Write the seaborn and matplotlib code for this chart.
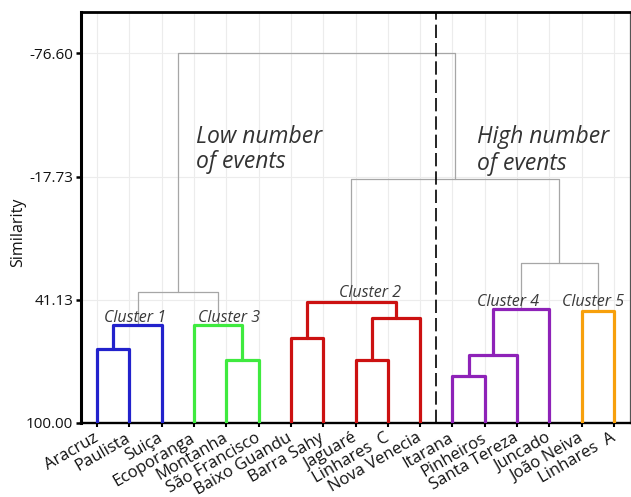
import numpy as np
import pandas as pd
import matplotlib
matplotlib.use("Agg")
import matplotlib.pyplot as plt
import seaborn as sns

# Leaves of the dendrogram, left to right
leaves = ["Aracruz", "Paulista", "Suiça", "Ecoporanga", "Montanha", "São Francisco",
          "Baixo Guandu", "Barra Sahy", "Jaguaré", "Linhares  C", "Nova Venecia",
          "Itarana", "Pinheiros", "Santa Tereza", "Juncado", "João Neiva", "Linhares  A"]
leaf_cluster = [1, 1, 1, 3, 3, 3, 2, 2, 2, 2, 2, 4, 4, 4, 4, 5, 5]

# Agglomeration steps: node ids < 17 are leaves, merge k creates node 17 + k
merge_left = [11, 8, 4, 17, 0, 6, 21, 3, 18, 15, 20, 22, 23, 27, 28, 29]
merge_right = [12, 9, 5, 13, 1, 7, 2, 19, 10, 16, 14, 25, 24, 26, 30, 31]
merge_similarity = [77.5, 69.7, 69.7, 67.5, 64.8, 59.2, 53.2, 53.2,
                    49.9, 46.4, 45.6, 42.1, 37.3, 23.5, -16.5, -76.60]

y_ticks = [-76.60, -17.73, 41.13, 100.00]
cluster_colors = {1: "#2222CC", 2: "#CC1111", 3: "#3FEA3F", 4: "#8E22B8", 5: "#F7A00C"}

# Build the link segments (inverted U shapes) from the merge table
n = len(leaves)
pos = {i: float(i) for i in range(n)}
level = {i: 100.0 for i in range(n)}
members = {i: {leaf_cluster[i]} for i in range(n)}
rows = []
for k, (a, b, s) in enumerate(zip(merge_left, merge_right, merge_similarity)):
    node = n + k
    pos[node] = (pos[a] + pos[b]) / 2
    level[node] = s
    members[node] = members[a] | members[b]
    group = f"C{next(iter(members[node]))}" if len(members[node]) == 1 else "link"
    pts = [(pos[a], level[a]), (pos[a], s), (pos[b], s), (pos[b], level[b])]
    for order, (x, y) in enumerate(pts):
        rows.append(dict(link=k, order=order, x=x, y=y, group=group))
segs = pd.DataFrame(rows)

palette = {"link": "#A6A6A6"}
sizes = {"link": 0.9}
for c, col in cluster_colors.items():
    palette[f"C{c}"] = col
    sizes[f"C{c}"] = 2.3
hue_order = ["link"] + [f"C{c}" for c in sorted(cluster_colors)]

sns.set_theme(style="white")
plt.rcParams["font.family"] = ["Open Sans", "DejaVu Sans"]

fig = plt.figure(figsize=(6.31, 4.97), dpi=100)
ax = fig.add_axes([81 / 631, 74 / 497, 549 / 631, 411 / 497])

sns.lineplot(data=segs, x="x", y="y", units="link", estimator=None, sort=False,
             hue="group", hue_order=hue_order, palette=palette,
             size="group", size_order=hue_order, sizes=sizes,
             legend=False, ax=ax, zorder=3)

# Split between the low- and high-event groups
ax.axvline(10.5, color="black", lw=1.2, dashes=(8, 3), zorder=4)

ax.set_xlim(-0.5, n - 0.5)
ax.set_ylim(100, -96.3)
ax.set_yticks(y_ticks)
ax.set_yticklabels([f"{v:.2f}" for v in y_ticks], fontsize=11, color="#111111")
ax.set_xticks(range(n))
ax.set_xticklabels(leaves, rotation=30, ha="right", va="center",
                   rotation_mode="anchor", fontsize=12, color="#111111")
ax.tick_params(axis="y", direction="out", length=3.5, width=1.8, pad=2, color="black", left=True)
ax.tick_params(axis="x", direction="out", length=3, width=1.5, pad=7, color="black", bottom=True)

ax.set_xlabel("")
ax.set_ylabel("Similarity", fontsize=11.5, color="#111111")
ax.yaxis.set_label_coords(-0.10, 0.465)

ax.grid(True, color="#ECECEC", lw=0.8)
ax.set_axisbelow(True)

for side, lw, col in [("left", 2.2, "black"), ("top", 2.0, "black"),
                      ("bottom", 1.7, "black"), ("right", 0.9, "#555555")]:
    ax.spines[side].set_visible(True)
    ax.spines[side].set_linewidth(lw)
    ax.spines[side].set_color(col)

# Group annotations
note_kw = dict(style="italic", fontsize=16.5, color="#333333", ha="left", va="baseline")
ax.text(3.05, -33.8, "Low number", **note_kw)
ax.text(3.05, -21.6, "of events", **note_kw)
ax.text(11.77, -33.6, "High number", **note_kw)
ax.text(11.77, -21.0, "of events", **note_kw)

# Cluster labels
lab_kw = dict(style="italic", fontsize=11.5, color="#3A3A3A", ha="center", va="baseline", zorder=5)
ax.text(1.16, 51.6, "Cluster 1", **lab_kw)
ax.text(4.08, 51.6, "Cluster 3", **lab_kw)
ax.text(8.45, 39.7, "Cluster 2", **lab_kw)
ax.text(12.72, 44.1, "Cluster 4", **lab_kw)
ax.text(15.35, 44.1, "Cluster 5", **lab_kw)

fig.savefig("out.png", dpi=100)
